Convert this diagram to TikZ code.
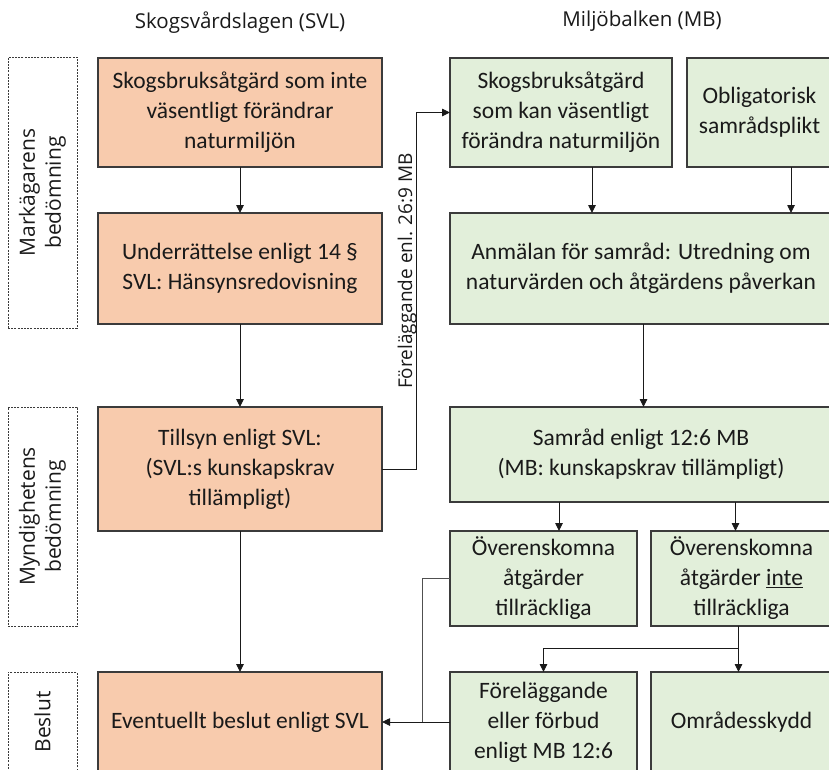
\documentclass[tikz,border=0pt]{standalone}
\usepackage{fontspec}
\setmainfont{Carlito}
\newfontfamily\headfont{Open Sans}
\usetikzlibrary{arrows.meta}

\definecolor{svlfill}{HTML}{F8CBAD}
\definecolor{mbfill}{HTML}{E2EFDA}
\definecolor{edge}{HTML}{3B3B3B}
\definecolor{ink}{HTML}{1A1A1A}
\definecolor{linkgray}{HTML}{505050}

\tikzset{
  panel/.style={draw=edge, line width=1.1pt, align=center, inner sep=0pt, outer sep=0pt,
    anchor=north west, text=ink, font=\fontsize{23.5}{30}\selectfont},
  svl/.style={panel, fill=svlfill},
  mb/.style={panel, fill=mbfill},
  phase/.style={draw=edge, line width=0.7pt, dash pattern=on 2pt off 1.2pt,
    inner sep=0pt, outer sep=0pt, anchor=north west},
  phaselabel/.style={rotate=90, align=center, text=ink, inner sep=0pt,
    font=\headfont\fontsize{21}{26}\selectfont},
  heading/.style={text=ink, inner sep=0pt, font=\headfont\fontsize{20.5}{24}\selectfont},
  arr/.style={draw=ink, line width=0.9pt, -{Triangle[length=8pt,width=7.5pt]}},
  link/.style={draw=linkgray, line width=0.9pt}
}

\begin{document}
\begin{tikzpicture}[x=1pt,y=-1pt]
\useasboundingbox (0,0) rectangle (829,769);
\clip (0,0) rectangle (829,769);
\fill[white] (0,0) rectangle (829,769);

% column headings
\node[heading] (hsvl) at (240,23) {Skogsvårdslagen (SVL)};
\node[heading] (hmb) at (642,21) {Miljöbalken (MB)};

% phases of the process
\node[phase, minimum width=69pt, minimum height=271pt] (ph1) at (8,57) {};
\node[phase, minimum width=69pt, minimum height=219pt] (ph2) at (8,407) {};
\node[phase, minimum width=69pt, minimum height=100pt] (ph3) at (8,672) {};
\node[phaselabel] (ph1t) at (42.5,192.5) {Markägarens\\bedömning};
\node[phaselabel] (ph2t) at (42.5,516.5) {Myndighetens\\bedömning};
\node[phaselabel] (ph3t) at (42.5,722) {Beslut};

% Skogsvårdslagen column
\node[svl, minimum width=284pt, minimum height=109pt] (s1) at (98,58)
  {Skogsbruksåtgärd som inte\\väsentligt förändrar\\naturmiljön};
\node[svl, minimum width=284pt, minimum height=111pt] (s2) at (98,213)
  {Underrättelse enligt 14 §\\SVL: Hänsynsredovisning};
\node[svl, minimum width=284pt, minimum height=124pt] (s3) at (98,407)
  {Tillsyn enligt SVL:\\(SVL:s kunskapskrav\\tillämpligt)};
\node[svl, minimum width=284pt, minimum height=100pt] (s4) at (98,672)
  {Eventuellt beslut enligt SVL};

% Miljöbalken column
\node[mb, minimum width=222pt, minimum height=109pt] (m1) at (450,58)
  {Skogsbruksåtgärd\\som kan väsentligt\\förändra naturmiljön};
\node[mb, minimum width=145pt, minimum height=109pt] (m2) at (687,58)
  {Obligatorisk\\samrådsplikt};
\node[mb, minimum width=382pt, minimum height=111pt] (m3) at (450,213)
  {Anmälan för samråd: Utredning om\\naturvärden och åtgärdens påverkan};
\node[mb, minimum width=382pt, minimum height=95pt] (m4) at (450,407)
  {Samråd enligt 12:6 MB\\(MB: kunskapskrav tillämpligt)};
\node[mb, minimum width=187pt, minimum height=95pt] (m5) at (450,531)
  {Överenskomna\\åtgärder\\tillräckliga};
\node[mb, minimum width=181pt, minimum height=95pt] (m6) at (651,531)
  {Överenskomna\\åtgärder \underline{inte}\\tillräckliga};
\node[mb, minimum width=187pt, minimum height=100pt] (m7) at (450,672)
  {Föreläggande\\eller förbud\\enligt MB 12:6};
\node[mb, minimum width=181pt, minimum height=100pt] (m8) at (651,672)
  {Områdesskydd};

% flow within SVL
\draw[arr] (s1.south) -- (s2.north);
\draw[arr] (s2.south) -- (s3.north);
\draw[arr] (s3.south) -- (s4.north);

% flow within MB
\draw[arr] ([xshift=31pt]m1.south) -- ([xshift=31pt]m1.south |- m3.north);
\draw[arr] ([xshift=31.5pt]m2.south) -- ([xshift=31.5pt]m2.south |- m3.north);
\draw[arr] ([xshift=2.5pt]m3.south) -- ([xshift=2.5pt]m3.south |- m4.north);
\draw[arr] ([xshift=15.5pt]m5.north |- m4.south) -- ([xshift=15.5pt]m5.north);
\draw[arr] ([xshift=-6pt]m6.north |- m4.south) -- ([xshift=-6pt]m6.north);
\coordinate (split) at (738,648);
\draw[arr] ([xshift=-3pt]m6.south) -- ([xshift=-3pt]m8.north);
\draw[arr] (split) -| (m7.north);

% outcomes back to the SVL decision
\coordinate (join) at (422,722);
\draw[link] (m5.west) -| (join);
\draw[arr] (m7.west) -- (s4.east);

% injunction from supervision over to MB
\coordinate (bend) at (416,112.5);
\draw[arr] (s3.east) -| (bend) -- (m1.west);
\node[rotate=90, anchor=base, inner sep=0pt, text=ink,
  font=\headfont\fontsize{19}{22}\selectfont] (inj) at (412,271) {Föreläggande enl. 26:9 MB};
\end{tikzpicture}
\end{document}
